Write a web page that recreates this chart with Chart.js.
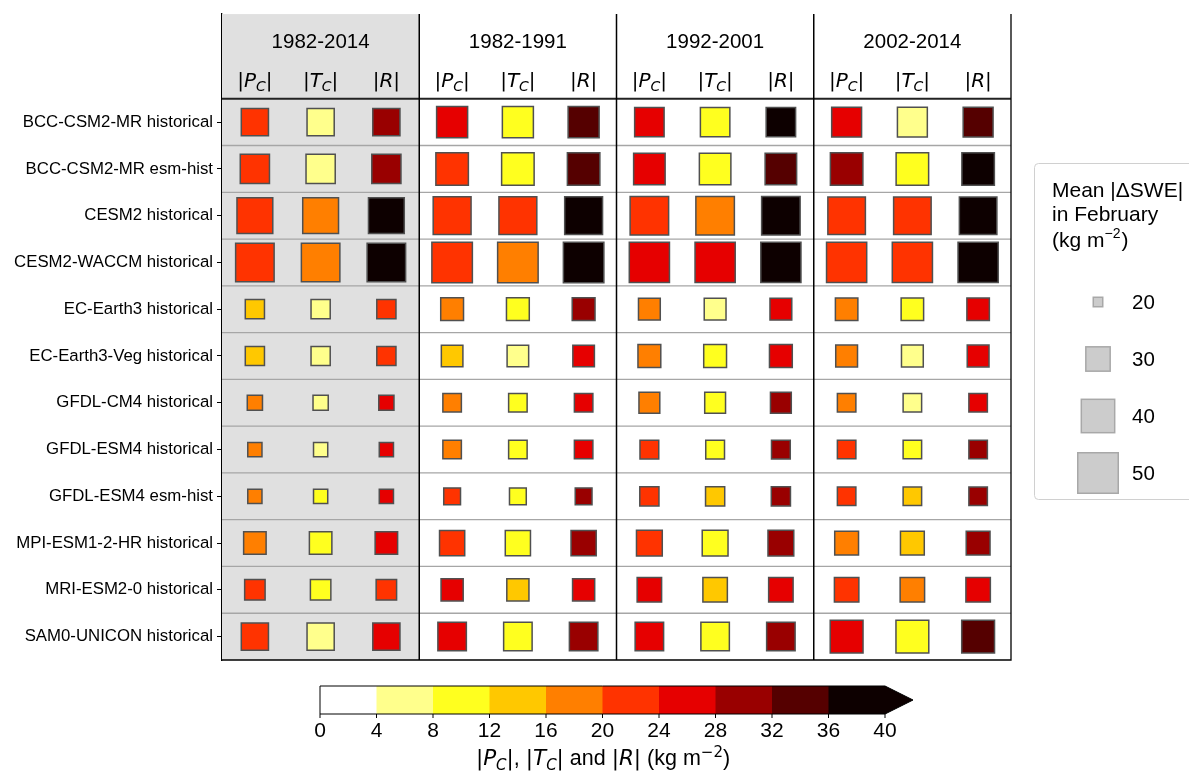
<!DOCTYPE html>
<html>
<head>
<meta charset="utf-8">
<script src="https://cdn.jsdelivr.net/npm/chart.js@4"></script>
<style>
  html, body { margin: 0; padding: 0; background: #ffffff; }
  #wrap { width: 1189px; height: 771px; position: relative; }
</style>
</head>
<body>
<div id="wrap"><canvas id="chart" width="1189" height="771"></canvas></div>
<script>
// Models (rows, top to bottom)
const models = [
  'BCC-CSM2-MR historical',
  'BCC-CSM2-MR esm-hist',
  'CESM2 historical',
  'CESM2-WACCM historical',
  'EC-Earth3 historical',
  'EC-Earth3-Veg historical',
  'GFDL-CM4 historical',
  'GFDL-ESM4 historical',
  'GFDL-ESM4 esm-hist',
  'MPI-ESM1-2-HR historical',
  'MRI-ESM2-0 historical',
  'SAM0-UNICON historical'
];
const periods = ['1982-2014', '1982-1991', '1992-2001', '2002-2014'];

// |Pc|, |Tc|, |R| in kg m-2, one array per period and term
const pc8214 = [22, 22, 22, 22, 14, 14, 18, 18, 18, 18, 22, 22];
const tc8214 = [6, 6, 18, 18, 6, 6, 6, 6, 10, 10, 10, 6];
const r8214  = [30, 30, 39, 39, 22, 22, 26, 26, 26, 26, 22, 26];

const pc8291 = [26, 22, 22, 22, 18, 14, 18, 18, 22, 22, 26, 26];
const tc8291 = [10, 10, 22, 18, 10, 6, 10, 10, 10, 10, 14, 10];
const r8291  = [34, 34, 39, 39, 30, 26, 26, 26, 30, 30, 26, 30];

const pc9201 = [26, 26, 22, 26, 18, 18, 18, 22, 22, 22, 26, 26];
const tc9201 = [10, 10, 18, 26, 6, 10, 10, 10, 14, 10, 14, 10];
const r9201  = [39, 34, 39, 39, 26, 26, 30, 30, 30, 30, 26, 30];

const pc0214 = [26, 30, 22, 22, 18, 18, 18, 22, 22, 18, 22, 26];
const tc0214 = [6, 10, 22, 22, 10, 6, 6, 10, 14, 14, 18, 10];
const r0214  = [34, 39, 39, 39, 26, 26, 26, 30, 30, 30, 26, 34];

// Mean |ΔSWE| in February (kg m-2), sets the square size
const swe8214 = [32.8, 35.0, 43.2, 47.0, 25.6, 25.6, 22.9, 22.3, 22.3, 28.3, 26.6, 32.8];
const swe8291 = [37.1, 38.9, 46.1, 50.0, 28.6, 27.5, 25.1, 25.1, 23.9, 30.8, 28.0, 34.2];
const swe9201 = [35.3, 37.7, 47.0, 49.5, 27.7, 28.6, 26.9, 25.3, 25.6, 31.4, 30.1, 34.2];
const swe0214 = [35.8, 38.9, 45.6, 49.5, 28.3, 27.7, 25.1, 25.1, 25.1, 29.5, 30.1, 39.3];

// Size legend entries and colour bar ticks
const sizeLegendValues = [20, 30, 40, 50];
const colorTicks = [0, 4, 8, 12, 16, 20, 24, 28, 32, 36, 40];
const binColors = ['#ffffff', '#ffff8c', '#ffff1f', '#ffc800', '#ff7f00',
                   '#ff3300', '#e60000', '#990000', '#550000', '#0d0000'];

const termValues = [
  [pc8214, tc8214, r8214],
  [pc8291, tc8291, r8291],
  [pc9201, tc9201, r9201],
  [pc0214, tc0214, r0214]
];
const sweValues = [swe8214, swe8291, swe9201, swe0214];
const termNames = ['P', 'T', 'R'];

function colorFor(v) {
  const i = Math.min(binColors.length - 1, Math.max(0, Math.floor(v / 4)));
  return binColors[i];
}
// square side (px) from mean |ΔSWE|: area grows linearly with the value
function squareSide(s) {
  return Math.sqrt(54.8 * Math.max(0, s - 17.8));
}
const EDGE_W = 1.5;

// one dataset per period and term
const datasets = [];
periods.forEach((p, pi) => {
  termNames.forEach((t, ti) => {
    datasets.push({
      label: p + ' ' + t,
      data: models.map((m, mi) => ({
        x: pi * 3 + ti + 0.5,
        y: mi,
        c: termValues[pi][ti][mi],
        s: sweValues[pi][mi]
      })),
      pointStyle: 'rect',
      backgroundColor: ctx => colorFor(ctx.raw.c),
      borderColor: '#505050',
      borderWidth: EDGE_W,
      pointRadius: ctx => Math.max(1, squareSide(ctx.raw.s) - EDGE_W) / Math.SQRT2,
      pointHoverRadius: ctx => Math.max(1, squareSide(ctx.raw.s) - EDGE_W) / Math.SQRT2
    });
  });
});

const SANS = '"Liberation Sans", Arial, sans-serif';
const MATH = '"DejaVu Sans", sans-serif';

// draws a run of text pieces with different fonts/offsets, centred on cx
function drawRich(ctx, segs, cx, baseY) {
  let w = 0;
  segs.forEach(s => { ctx.font = s.font; s.w = ctx.measureText(s.t).width; w += s.w; });
  let x = cx - w / 2;
  ctx.textAlign = 'left';
  ctx.textBaseline = 'alphabetic';
  segs.forEach(s => { ctx.font = s.font; ctx.fillText(s.t, x, baseY + (s.dy || 0)); x += s.w; });
}
function absTerm(letter, sub, size) {
  const segs = [
    { t: '|', font: size + 'px ' + MATH },
    { t: letter, font: 'italic ' + size + 'px ' + MATH }
  ];
  if (sub) segs.push({ t: sub, font: 'italic ' + Math.round(size * 0.7) + 'px ' + MATH, dy: size * 0.22 });
  segs.push({ t: '|', font: size + 'px ' + MATH });
  return segs;
}

const gridPlugin = {
  id: 'gridDecor',
  beforeDatasetsDraw(chart) {
    const { ctx, chartArea: a, scales: { x, y } } = chart;
    ctx.save();
    // shaded full-period block
    ctx.fillStyle = '#e0e0e0';
    ctx.fillRect(a.left, a.top, x.getPixelForValue(3) - a.left, a.bottom - a.top);
    // row separators
    ctx.strokeStyle = '#a6a6a6';
    ctx.lineWidth = 1.3;
    for (let i = 0; i < models.length - 1; i++) {
      const py = y.getPixelForValue(i + 0.5);
      ctx.beginPath(); ctx.moveTo(a.left, py); ctx.lineTo(a.right, py); ctx.stroke();
    }
    // header separator
    ctx.strokeStyle = '#222222';
    ctx.lineWidth = 1.8;
    const hy = y.getPixelForValue(-0.5);
    ctx.beginPath(); ctx.moveTo(a.left, hy); ctx.lineTo(a.right, hy); ctx.stroke();
    // period separators
    ctx.strokeStyle = '#000000';
    ctx.lineWidth = 1.5;
    [3, 6, 9].forEach(v => {
      const px = x.getPixelForValue(v);
      ctx.beginPath(); ctx.moveTo(px, a.top); ctx.lineTo(px, a.bottom); ctx.stroke();
    });
    // frame: right and bottom
    ctx.lineWidth = 1.3;
    ctx.beginPath();
    ctx.moveTo(a.right, a.top); ctx.lineTo(a.right, a.bottom); ctx.lineTo(a.left, a.bottom);
    ctx.stroke();

    // headers
    ctx.fillStyle = '#000000';
    periods.forEach((p, pi) => {
      ctx.font = '20.5px ' + SANS;
      ctx.textAlign = 'center';
      ctx.textBaseline = 'middle';
      ctx.fillText(p, x.getPixelForValue(pi * 3 + 1.5), a.top + 28);
      termNames.forEach((t, ti) => {
        const sub = t === 'R' ? null : 'C';
        drawRich(ctx, absTerm(t, sub, 20), x.getPixelForValue(pi * 3 + ti + 0.5), a.top + 73);
      });
    });
    ctx.restore();
  },
  afterDraw(chart) {
    const { ctx } = chart;
    ctx.save();
    // ---- size legend ----
    const bx = 1034, by = 163, bw = 170, bh = 336;
    ctx.strokeStyle = '#d0d0d0';
    ctx.lineWidth = 1;
    ctx.fillStyle = 'rgba(255,255,255,0.8)';
    ctx.beginPath();
    ctx.roundRect(bx + 0.5, by + 0.5, bw, bh, 4);
    ctx.fill(); ctx.stroke();
    ctx.fillStyle = '#000000';
    ctx.textAlign = 'left';
    ctx.textBaseline = 'middle';
    const LF = 21;
    ctx.font = LF + 'px ' + SANS;
    ctx.fillText('Mean |\u0394SWE|', 1052, 191);
    ctx.fillText('in February', 1052, 215);
    ctx.fillText('(kg m', 1052, 241);
    let w0 = ctx.measureText('(kg m').width;
    ctx.font = '14px ' + SANS;
    ctx.fillText('\u22122', 1052 + w0, 234);
    let w1 = ctx.measureText('\u22122').width;
    ctx.font = LF + 'px ' + SANS;
    ctx.fillText(')', 1052 + w0 + w1 + 1, 241);
    const rowsY = [302, 359, 416, 473];
    sizeLegendValues.forEach((v, i) => {
      const side = squareSide(v);
      const cx = 1098, cy = rowsY[i];
      ctx.fillStyle = '#cccccc';
      ctx.strokeStyle = '#a8a8a8';
      ctx.lineWidth = EDGE_W;
      const s = side - EDGE_W;
      ctx.fillRect(cx - s / 2, cy - s / 2, s, s);
      ctx.strokeRect(cx - s / 2, cy - s / 2, s, s);
      ctx.fillStyle = '#000000';
      ctx.font = '20.5px ' + SANS;
      ctx.fillText(String(v), 1132, cy + 1);
    });

    // ---- colour bar ----
    const cbL = 320, cbR = 885, cbT = 686, cbB = 714, tipX = 913;
    const px = v => cbL + (cbR - cbL) * v / 40;
    for (let i = 0; i < binColors.length; i++) {
      ctx.fillStyle = binColors[i];
      ctx.fillRect(px(i * 4), cbT, px(i * 4 + 4) - px(i * 4) + 0.5, cbB - cbT);
    }
    ctx.fillStyle = binColors[binColors.length - 1];
    ctx.beginPath();
    ctx.moveTo(cbR, cbT); ctx.lineTo(tipX, (cbT + cbB) / 2); ctx.lineTo(cbR, cbB); ctx.closePath();
    ctx.fill();
    ctx.strokeStyle = '#000000';
    ctx.lineWidth = 1;
    ctx.beginPath();
    ctx.moveTo(cbR, cbT); ctx.lineTo(cbL, cbT); ctx.lineTo(cbL, cbB); ctx.lineTo(cbR, cbB);
    ctx.lineTo(tipX, (cbT + cbB) / 2); ctx.closePath();
    ctx.stroke();
    ctx.fillStyle = '#000000';
    ctx.textAlign = 'center';
    ctx.textBaseline = 'middle';
    ctx.font = '21px ' + SANS;
    colorTicks.forEach(v => {
      ctx.beginPath(); ctx.moveTo(px(v), cbB); ctx.lineTo(px(v), cbB + 4); ctx.stroke();
      ctx.fillText(String(v), px(v), cbB + 17);
    });
    // colour bar title
    const fs = 21.5;
    const title = []
      .concat(absTerm('P', 'C', fs))
      .concat([{ t: ', ', font: fs + 'px ' + SANS }])
      .concat(absTerm('T', 'C', fs))
      .concat([{ t: ' and ', font: fs + 'px ' + SANS }])
      .concat(absTerm('R', null, fs))
      .concat([{ t: ' (kg m', font: fs + 'px ' + SANS },
               { t: '\u22122', font: '15px ' + MATH, dy: -8 },
               { t: ')', font: fs + 'px ' + SANS }]);
    drawRich(ctx, title, 603, 765);
    ctx.restore();
  }
};

new Chart(document.getElementById('chart'), {
  type: 'scatter',
  data: { datasets },
  options: {
    responsive: false,
    animation: false,
    events: [],
    layout: { autoPadding: false, padding: { left: 0, top: 12, right: 178, bottom: 111 } },
    plugins: { legend: { display: false }, tooltip: { enabled: false } },
    scales: {
      x: {
        type: 'linear', min: 0, max: 12, display: false
      },
      y: {
        type: 'linear', min: -2.31, max: 11.5, reverse: true,
        afterFit: s => { s.width = 222; },
        afterBuildTicks: s => { s.ticks = models.map((m, i) => ({ value: i })); },
        ticks: {
          autoSkip: false,
          padding: 4,
          color: '#000000',
          font: { family: SANS, size: 16.8 },
          callback: v => models[v]
        },
        grid: { drawOnChartArea: false, drawTicks: true, tickLength: 5, color: '#000000', lineWidth: 1 },
        border: { display: true, color: '#000000', width: 1.3 }
      }
    }
  },
  plugins: [gridPlugin]
});
</script>
</body>
</html>
